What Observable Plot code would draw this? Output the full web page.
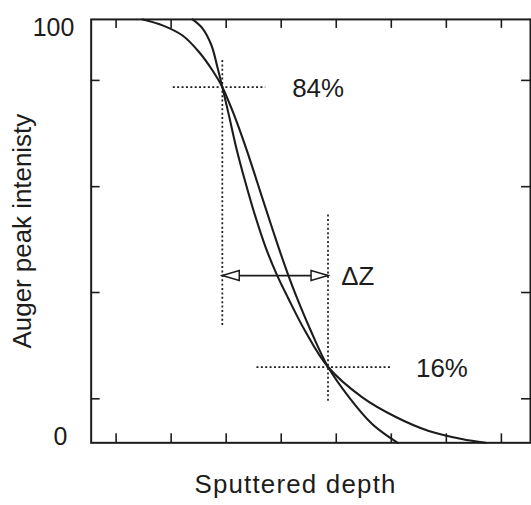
<!DOCTYPE html>
<html>
<head>
<meta charset="utf-8">
<script src="https://cdn.jsdelivr.net/npm/d3@7"></script>
<script src="https://cdn.jsdelivr.net/npm/@observablehq/plot@0.6"></script>
<style>
  html, body { margin: 0; padding: 0; background: #fff; overflow: hidden; }
  #chart svg { display: block; }
  #chart .xtitle, #chart .xtitle text { letter-spacing: 1.2px; }
</style>
</head>
<body>
<div id="chart"></div>
<script>
// ---- data (depth in tick units, intensity in %) ----
const curveSteepDepth = [2.388, 2.569, 2.732, 2.832, 2.931, 3.049, 3.185, 3.348, 3.520, 3.719, 3.918, 4.118, 4.435, 4.851, 5.467, 6.083, 6.681, 7.279, 7.714];
const curveSteepValue = [100, 97.9, 93.9, 89.2, 84.0, 77.4, 69.6, 61.6, 53.9, 46.1, 39.8, 34.4, 26.4, 17.9, 10.8, 6.1, 2.8, 0.9, 0];
const curveErfDepth   = [1.482, 1.844, 2.207, 2.514, 2.749, 2.931, 3.145, 3.361, 3.563, 3.755, 3.953, 4.123, 4.281, 4.540, 4.851, 5.230, 5.647, 5.955, 6.118];
const curveErfValue   = [100, 98.6, 96.2, 92.2, 88.0, 84.0, 77.4, 69.6, 61.6, 53.9, 46.1, 39.8, 34.4, 26.4, 17.9, 10.8, 4.5, 1.4, 0];

const xTicks = [1, 2, 3, 4, 5, 6, 7, 8];
const yTicks = [10.4, 35.5, 60.5, 85.6];
const yTickLabels = ["100", "0"];
const yTickLabelValues = [100, 0];

// dotted guide lines
const guideH = [
  {x1: 2.03, x2: 3.71, y: 84.0},
  {x1: 3.55, x2: 6.00, y: 17.9}
];
const guideV = [
  {x: 2.93, y1: 90.4, y2: 27.5},
  {x: 4.85, y1: 53.9, y2: 9.6}
];
const arrowSpan = {x1: 2.93, x2: 4.85, y: 39.5};
const pctLabels = [
  {x: 4.20, y: 84.0, text: "84%"},
  {x: 6.45, y: 17.9, text: "16%"}
];
const dzLabel = [{x: 5.09, y: 39.5, text: "ΔZ"}];
const xTitle = "Sputtered depth";
const yTitle = "Auger peak intenisty";

const steep = curveSteepDepth.map((d, i) => ({depth: d, value: curveSteepValue[i]}));
const erf = curveErfDepth.map((d, i) => ({depth: d, value: curveErfValue[i]}));

const ink = "#1c1c1c";
const font = "'Liberation Sans', Arial, Helvetica, sans-serif";

// open elongated triangle arrowhead, tip at origin pointing right
const headSymbol = {
  draw(context, size) {
    const L = 17, H = 5;
    context.moveTo(0, 0);
    context.lineTo(-L, -H);
    context.lineTo(-L, H);
    context.closePath();
  }
};

const W = 533, H = 505, mL = 91, mR = 1, mT = 19, mB = 61;
const frameW = W - mL - mR, frameH = H - mT - mB;
const tick = 9;

const chart = Plot.plot({
  width: W,
  height: H,
  marginLeft: mL,
  marginRight: mR,
  marginTop: mT,
  marginBottom: mB,
  style: {fontFamily: font, background: "#fff", color: ink},
  x: {domain: [0.547, 8.529], axis: null},
  y: {domain: [0, 100], axis: null},
  marks: [
    // inward ticks
    Plot.tickX(xTicks, {x: d => d, insetTop: frameH - tick, stroke: ink, strokeWidth: 1.6}),
    Plot.tickX(xTicks, {x: d => d, insetBottom: frameH - tick, stroke: ink, strokeWidth: 1.6}),
    Plot.tickY(yTicks, {y: d => d, insetRight: frameW - tick, stroke: ink, strokeWidth: 1.6}),
    Plot.tickY(yTicks, {y: d => d, insetLeft: frameW - tick, stroke: ink, strokeWidth: 1.6}),
    // dotted guides
    Plot.link(guideH, {x1: "x1", x2: "x2", y1: "y", y2: "y", stroke: ink, strokeWidth: 1.7, strokeDasharray: "2,2.4"}),
    Plot.link(guideV, {x1: "x", x2: "x", y1: "y1", y2: "y2", stroke: ink, strokeWidth: 1.7, strokeDasharray: "2,2.4"}),
    // curves
    Plot.line(erf, {x: "depth", y: "value", stroke: ink, strokeWidth: 2.1, curve: "catmull-rom"}),
    Plot.line(steep, {x: "depth", y: "value", stroke: ink, strokeWidth: 2.1, curve: "catmull-rom"}),
    // ΔZ arrow
    Plot.link([arrowSpan], {x1: "x1", x2: "x2", y1: "y", y2: "y", stroke: ink, strokeWidth: 1.6}),
    Plot.dot([arrowSpan], {x: "x2", y: "y", symbol: headSymbol, r: 5, fill: "#fff", stroke: ink, strokeWidth: 1.5}),
    Plot.dot([arrowSpan], {x: "x1", y: "y", symbol: headSymbol, rotate: 180, r: 5, fill: "#fff", stroke: ink, strokeWidth: 1.5}),
    // annotations
    Plot.text(pctLabels, {x: "x", y: "y", text: "text", textAnchor: "start", fontSize: 26, fill: ink, dy: 2}),
    Plot.text(dzLabel, {x: "x", y: "y", text: "text", textAnchor: "start", fontSize: 26, fill: ink, dy: 1}),
    // y tick labels
    Plot.text([0], {y: () => yTickLabelValues[0], text: () => yTickLabels[0], frameAnchor: "left", textAnchor: "end", lineAnchor: "middle", dx: -17, dy: 9, fontSize: 25, fill: ink}),
    Plot.text([1], {y: () => yTickLabelValues[1], text: () => yTickLabels[1], frameAnchor: "left", textAnchor: "end", lineAnchor: "middle", dx: -24, dy: -6, fontSize: 25, fill: ink}),
    // axis titles
    Plot.text([xTitle], {x: 4.26, text: d => d, frameAnchor: "bottom", textAnchor: "middle", lineAnchor: "middle", dy: 42, fontSize: 26, fill: ink, className: "xtitle"}),
    Plot.text([yTitle], {y: 50, text: d => d, frameAnchor: "left", textAnchor: "middle", lineAnchor: "middle", dx: -69, rotate: -90, fontSize: 26, fill: ink}),
    Plot.frame({stroke: ink, strokeWidth: 2})
  ]
});

document.getElementById("chart").append(chart);
</script>
</body>
</html>
